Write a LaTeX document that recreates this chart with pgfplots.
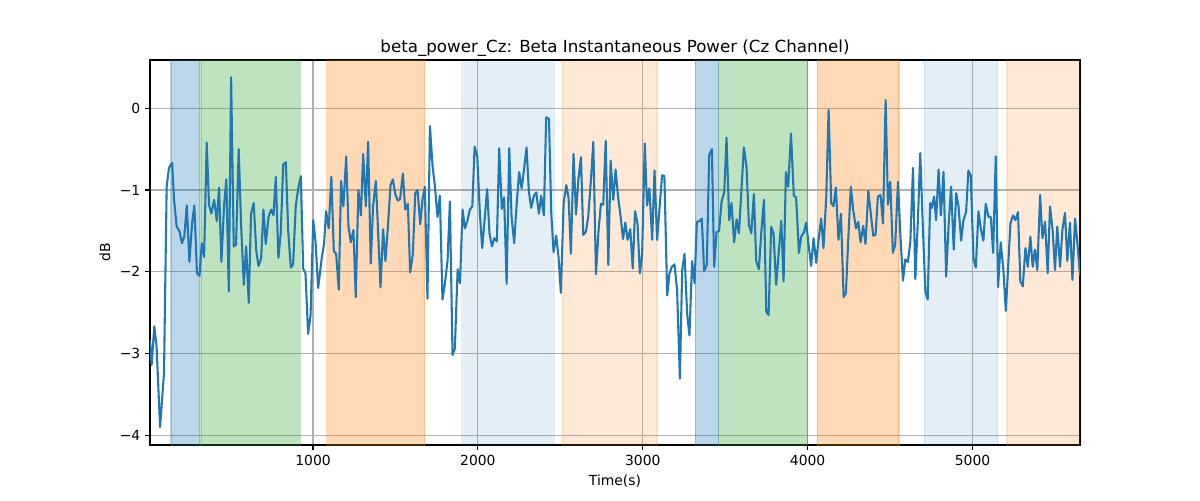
\documentclass[border=0pt]{standalone}
\usepackage{fontspec}
\setmainfont{DejaVu Sans}
\usepackage{pgfplots}
\pgfplotsset{compat=1.18}
\usetikzlibrary{calc}
\definecolor{tabblue}{HTML}{1F77B4}
\definecolor{tabgreen}{HTML}{2CA02C}
\definecolor{taborange}{HTML}{FF7F0E}
\definecolor{gridgray}{HTML}{B0B0B0}
\pgfplotstableread{
t db
11 -2.84
21 -3.14
37 -2.67
51 -2.92
72 -3.90
96 -3.24
112 -0.96
126 -0.73
145 -0.67
157 -1.12
173 -1.45
189 -1.50
205 -1.65
219 -1.57
234 -1.19
250 -1.88
266 -1.41
280 -1.19
296 -2.02
311 -2.05
325 -1.65
339 -1.82
355 -0.42
369 -1.18
383 -1.29
400 -1.12
416 -1.38
430 -0.97
444 -1.88
460 -1.20
474 -0.87
489 -2.24
503 0.38
519 -1.69
533 -1.67
549 -0.50
564 -1.45
580 -2.16
594 -1.69
610 -2.38
624 -1.29
640 -1.16
655 -1.73
669 -1.93
685 -1.84
699 -1.24
713 -1.66
730 -1.33
746 -1.24
760 -1.31
774 -0.84
790 -1.83
804 -1.53
819 -0.69
835 -0.66
849 -1.49
865 -1.95
879 -1.91
895 -1.20
910 -0.98
926 -0.83
940 -1.96
954 -2.02
970 -2.76
985 -2.53
1001 -1.37
1015 -1.63
1031 -2.20
1051 -1.86
1067 -1.65
1079 -1.26
1095 -1.47
1111 -0.84
1126 -1.75
1140 -1.78
1156 -2.22
1170 -0.89
1184 -1.20
1201 -0.59
1215 -1.45
1229 -1.64
1245 -1.49
1259 -2.31
1275 -1.00
1290 -1.31
1304 -0.56
1320 -1.20
1334 -0.41
1350 -1.90
1364 -1.20
1381 -0.89
1395 -1.53
1409 -2.19
1425 -1.48
1439 -1.87
1454 -1.45
1470 -0.94
1484 -0.87
1500 -1.06
1514 -1.13
1528 -1.11
1545 -0.80
1559 -1.24
1575 -1.17
1589 -2.01
1605 -1.79
1620 -1.04
1634 -1.00
1650 -1.42
1664 -1.12
1678 -0.96
1694 -2.33
1709 -0.22
1725 -0.71
1739 -0.95
1755 -1.33
1769 -1.07
1785 -2.34
1800 -2.14
1816 -1.86
1830 -1.14
1846 -3.02
1860 -2.94
1877 -1.97
1891 -2.14
1907 -1.24
1921 -1.47
1937 -1.37
1951 -1.24
1966 -1.20
1980 -0.47
1996 -0.59
2012 -1.29
2026 -1.71
2042 -1.33
2056 -0.99
2070 -1.53
2085 -1.69
2099 -1.59
2115 -1.63
2129 -0.49
2145 -1.23
2159 -1.09
2174 -2.15
2190 -0.49
2204 -1.33
2220 -1.65
2234 -1.20
2250 -0.78
2265 -0.98
2279 -0.76
2295 -0.48
2309 -1.02
2323 -1.22
2340 -1.07
2354 -1.03
2370 -1.29
2384 -1.07
2400 -1.31
2414 -0.11
2431 -0.13
2445 -1.29
2459 -1.76
2475 -1.56
2489 -1.82
2503 -2.26
2520 -1.16
2536 -0.94
2550 -1.10
2564 -1.78
2580 -0.56
2595 -1.30
2609 -0.88
2625 -0.60
2639 -1.55
2655 -1.51
2669 -1.33
2686 -0.86
2700 -0.41
2716 -2.03
2732 -1.49
2746 -1.17
2760 -1.18
2775 -0.40
2791 -1.92
2805 -0.64
2821 -1.12
2835 -0.75
2850 -1.08
2866 -1.33
2880 -1.60
2894 -1.40
2908 -1.61
2924 -1.48
2939 -1.96
2953 -1.26
2968 -1.41
2982 -2.02
2996 -1.79
3012 -0.43
3026 -1.19
3040 -0.98
3057 -1.61
3071 -0.76
3087 -1.61
3101 -1.24
3117 -0.82
3131 -0.83
3148 -2.29
3162 -2.02
3176 -1.94
3192 -1.91
3208 -2.22
3225 -3.31
3239 -1.98
3253 -1.78
3269 -2.51
3283 -2.78
3299 -1.87
3314 -2.14
3328 -1.39
3344 -1.38
3358 -1.35
3372 -1.99
3388 -1.92
3403 -0.57
3419 -0.50
3433 -1.94
3447 -1.52
3463 -1.50
3478 -1.14
3494 -1.03
3508 -0.36
3524 -1.37
3538 -1.16
3554 -1.64
3569 -1.36
3583 -1.53
3599 -0.98
3613 -0.48
3629 -0.71
3644 -1.43
3658 -1.53
3674 -1.05
3688 -1.87
3704 -1.97
3718 -1.54
3735 -1.12
3749 -2.49
3763 -2.53
3779 -1.45
3793 -1.53
3809 -2.16
3824 -1.78
3840 -1.38
3854 -2.12
3868 -0.78
3882 -0.96
3899 -0.31
3916 -1.07
3930 -1.09
3947 -1.77
3961 -1.57
3977 -1.52
3991 -1.40
4007 -1.69
4021 -1.93
4036 -1.59
4052 -1.89
4066 -1.61
4082 -1.35
4096 -1.71
4113 -1.08
4127 -0.02
4143 -1.16
4157 -1.20
4171 -0.97
4187 -1.61
4202 -1.29
4218 -2.31
4232 -2.26
4248 -1.53
4262 -0.96
4276 -1.24
4293 -1.47
4307 -1.39
4321 -1.64
4337 -1.44
4351 -1.66
4368 -1.01
4382 -1.27
4398 -1.56
4412 -1.55
4426 -1.08
4442 -1.06
4457 -1.41
4473 0.10
4487 -1.18
4501 -0.90
4517 -1.77
4531 -1.67
4548 -0.90
4562 -1.53
4578 -2.11
4592 -1.85
4608 -1.88
4623 -1.63
4639 -0.73
4653 -2.09
4669 -1.35
4683 -0.55
4699 -1.47
4714 -2.24
4728 -2.34
4743 -1.16
4753 -1.22
4767 -1.08
4779 -1.37
4794 -0.75
4808 -1.31
4824 -0.78
4840 -2.06
4856 -1.39
4870 -0.96
4886 -1.73
4901 -1.04
4915 -1.20
4931 -1.62
4945 -1.37
4961 -1.27
4975 -0.76
4989 -0.82
5006 -1.84
5020 -1.95
5036 -1.26
5050 -1.47
5066 -1.62
5080 -1.17
5097 -1.33
5111 -1.33
5125 -1.77
5141 -0.59
5155 -2.19
5171 -1.64
5187 -1.97
5202 -2.48
5216 -1.94
5230 -1.41
5246 -1.31
5260 -1.37
5276 -1.27
5290 -2.12
5305 -2.18
5321 -1.71
5335 -1.94
5351 -1.57
5365 -1.94
5379 -1.73
5393 -1.98
5410 -1.06
5424 -1.59
5440 -1.39
5456 -2.02
5470 -1.20
5486 -1.49
5500 -1.98
5514 -1.45
5531 -1.94
5545 -1.49
5561 -1.28
5575 -1.87
5591 -1.40
5606 -2.10
5622 -1.35
5636 -1.65
5652 -2.04
}\datatable
\begin{document}
\begin{tikzpicture}
\begin{axis}[
  name=ax,
  scale only axis,
  width=669.6pt, height=277.2pt,
  xmin=11, xmax=5652,
  ymin=-4.12, ymax=0.59,
  xtick={1000,2000,3000,4000,5000},
  xticklabels={1000,2000,3000,4000,5000},
  ytick={-4,-3,-2,-1,0},
  yticklabels={−4,−3,−2,−1,0},
  grid=major,
  grid style={color=gridgray, line width=0.8pt},
  axis line style={line width=0.8pt},
  tick style={black, line width=0.8pt},
  tick align=outside,
  major tick length=3.5pt,
  xtick pos=bottom, ytick pos=left,
  ticklabel style={font=\fontsize{10}{12}\selectfont},
  label style={font=\fontsize{10}{12}\selectfont},
  title style={font=\fontsize{12}{14}\selectfont, yshift=-7pt},
  title={beta\_power\_Cz: Beta Instantaneous Power (Cz Channel)},
  xlabel={Time(s)},
  ylabel={dB},
  clip=true,
]
\addplot[draw=tabblue, fill=tabblue, fill opacity=0.3, draw opacity=0.3, line width=1pt] coordinates {(138,-5) (138,1) (313,1) (313,-5)} -- cycle;
\addplot[draw=tabgreen, fill=tabgreen, fill opacity=0.3, draw opacity=0.3, line width=1pt] coordinates {(320,-5) (320,1) (923,1) (923,-5)} -- cycle;
\addplot[draw=taborange, fill=taborange, fill opacity=0.3, draw opacity=0.3, line width=1pt] coordinates {(1083,-5) (1083,1) (1677,1) (1677,-5)} -- cycle;
\addplot[draw=tabblue, fill=tabblue, fill opacity=0.12, draw opacity=0.12, line width=1pt] coordinates {(1901,-5) (1901,1) (2463,1) (2463,-5)} -- cycle;
\addplot[draw=taborange, fill=taborange, fill opacity=0.17, draw opacity=0.17, line width=1pt] coordinates {(2513,-5) (2513,1) (3087,1) (3087,-5)} -- cycle;
\addplot[draw=tabblue, fill=tabblue, fill opacity=0.3, draw opacity=0.3, line width=1pt] coordinates {(3319,-5) (3319,1) (3460,1) (3460,-5)} -- cycle;
\addplot[draw=tabgreen, fill=tabgreen, fill opacity=0.3, draw opacity=0.3, line width=1pt] coordinates {(3460,-5) (3460,1) (4000,1) (4000,-5)} -- cycle;
\addplot[draw=taborange, fill=taborange, fill opacity=0.3, draw opacity=0.3, line width=1pt] coordinates {(4058,-5) (4058,1) (4553,1) (4553,-5)} -- cycle;
\addplot[draw=tabblue, fill=tabblue, fill opacity=0.12, draw opacity=0.12, line width=1pt] coordinates {(4707,-5) (4707,1) (5153,1) (5153,-5)} -- cycle;
\addplot[draw=taborange, fill=taborange, fill opacity=0.17, draw opacity=0.17, line width=1pt] coordinates {(5210,-5) (5210,1) (5700,1) (5700,-5)} -- cycle;
\addplot[draw=tabblue, line width=1.5pt, line join=round, mark=none] table[x=t, y=db] {\datatable};
\end{axis}
\path ($(ax.south west)+(-108pt,-39.6pt)$) rectangle ($(ax.south west)+(756pt,320.4pt)$);
\end{tikzpicture}
\end{document}
